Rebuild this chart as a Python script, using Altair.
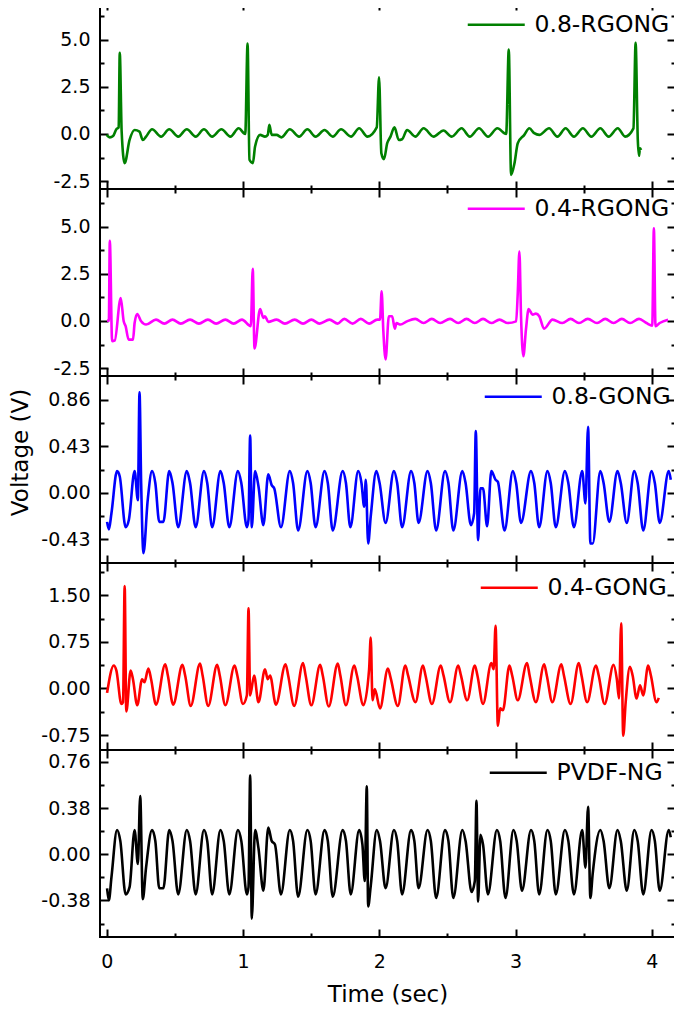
import altair as alt
import pandas as pd

# ---- data: (time in s, voltage in V) ----
RGONG08 = [(-0.002,-0.05),(0.022,-0.18),(0.046,-0.11),(0.07,0.25),(0.087,0.35),(0.095,4.30),(0.109,0.12),(0.131,-1.55),(0.167,-0.32),(0.204,0.21),(0.24,0.12),(0.264,-0.32),(0.288,-0.14),(0.332,0.25),(0.398,-0.14),(0.458,0.25),(0.524,-0.14),(0.587,0.25),(0.652,-0.14),(0.713,0.25),(0.773,-0.14),(0.841,0.25),(0.907,-0.14),(0.967,0.30),(1.016,0.0),(1.033,4.79),(1.047,-1.37),(1.072,-1.55),(1.088,-0.67),(1.125,-0.05),(1.161,-0.14),(1.181,-0.05),(1.193,0.48),(1.21,-0.05),(1.246,-0.05),(1.282,-0.18),(1.343,0.25),(1.411,-0.14),(1.472,0.25),(1.532,-0.14),(1.598,0.21),(1.658,-0.14),(1.719,0.25),
           (1.792,-0.14),(1.852,0.30),(1.913,-0.14),(1.981,0.35),(1.998,3.0),(2.015,-1.02),(2.034,-1.34),(2.058,-0.49),(2.082,-0.14),(2.111,0.35),(2.143,-0.32),(2.167,-0.28),(2.204,0.21),(2.264,-0.14),(2.325,0.30),(2.398,-0.14),(2.471,0.18),(2.531,-0.14),(2.604,0.30),(2.664,-0.14),(2.732,0.30),(2.798,-0.14),(2.866,0.30),(2.931,0.0),(2.95,4.48),(2.967,-2.17),(2.992,-1.55),(3.016,-0.49),(3.064,-0.05),(3.101,0.30),(3.137,0.04),(3.174,-0.05),(3.246,0.30),(3.307,-0.14),(3.367,0.30),(3.428,-0.14),(3.494,0.30),(3.556,-0.14),(3.622,0.30),(3.683,-0.14),(3.75,0.30),(3.804,-0.14),(3.865,0.30),(3.881,4.83),(3.897,-0.32),(3.906,-1.16),(3.913,-0.76),(3.921,-0.85)]

RGONG04 = [(0.002,0.02),(0.015,0.02),(0.022,4.25),(0.039,-1.07),(0.058,-1.04),(0.102,1.22),(0.124,-0.02),(0.138,-0.28),(0.16,-0.99),(0.192,-0.99),(0.204,-0.11),(0.223,0.37),(0.252,-0.02),(0.288,-0.19),(0.361,0.07),(0.422,-0.14),(0.482,0.07),(0.543,-0.14),(0.611,0.07),(0.676,-0.14),(0.742,0.07),(0.802,-0.14),(0.87,0.07),(0.931,-0.14),(0.992,0.07),(1.057,-0.28),(1.071,2.77),(1.084,-1.46),(1.125,0.63),(1.149,0.16),(1.161,0.25),(1.185,-0.05),(1.246,0.07),(1.307,-0.14),(1.379,0.07),(1.44,-0.14),(1.501,0.07),(1.561,-0.14),(1.634,0.07),(1.695,-0.14),
           (1.743,0.11),(1.804,-0.14),(1.864,0.11),(1.925,-0.14),(1.985,0.07),(2.005,0.07),(2.017,1.57),(2.029,-0.46),(2.046,-2.04),(2.07,0.25),(2.094,0.25),(2.114,-0.41),(2.126,-0.11),(2.155,-0.19),(2.203,-0.02),(2.264,0.11),(2.325,-0.11),(2.385,0.11),(2.446,-0.11),(2.519,0.11),(2.579,-0.11),(2.64,0.11),(2.701,-0.11),(2.761,0.11),(2.822,-0.11),(2.882,0.07),(2.943,-0.11),(3.004,-0.02),(3.016,1.48),(3.028,3.68),(3.04,0.25),(3.057,-1.87),(3.076,-0.46),(3.096,0.63),(3.125,0.33),(3.149,0.39),(3.174,0.25),(3.209,-0.41),(3.271,0.07),(3.343,-0.11),(3.404,0.11),(3.465,-0.11),(3.53,0.11),(3.598,-0.11),(3.658,0.11),(3.719,-0.11),(3.78,0.11),(3.84,-0.11),(3.906,0.11),(3.961,-0.11),(4.003,-0.25),(4.015,4.92),(4.027,-0.28),(4.058,-0.11),(4.119,0.07)]

GONG08 = [(0.002,-0.27),(0.015,-0.34),(0.034,-0.19),(0.075,0.20),(0.095,0.15),(0.138,-0.32),(0.162,-0.25),(0.204,0.20),(0.228,-0.07),(0.24,0.93),(0.252,0.09),(0.269,-0.56),(0.30,-0.07),(0.332,0.20),(0.356,0.09),(0.385,-0.27),(0.415,-0.27),(0.458,0.20),(0.482,0.09),(0.524,-0.32),(0.587,0.20),(0.611,0.09),(0.652,-0.32),(0.713,0.20),(0.737,0.09),(0.773,-0.32),(0.834,0.20),(0.858,0.09),(0.899,-0.32),(0.962,0.20),(0.987,0.09),(1.028,-0.32),(1.04,-0.25),(1.052,0.53),(1.064,-0.32),(1.088,0.20),(1.113,0.06),(1.149,-0.30),(1.185,0.17),(1.21,0.07),(1.229,0.04),(1.278,-0.32),(1.343,0.20),(1.367,0.09),(1.404,-0.35),(1.472,0.20),(1.496,0.09),(1.532,-0.32),(1.598,0.20),(1.622,0.09),(1.658,-0.35),
          (1.731,0.20),(1.755,0.09),(1.787,-0.32),(1.845,0.20),(1.869,0.09),(1.889,-0.13),(1.901,0.12),(1.918,-0.47),(1.937,-0.22),(1.978,0.20),(2.002,0.09),(2.046,-0.28),(2.107,0.20),(2.131,0.09),(2.167,-0.32),(2.233,0.20),(2.257,0.09),(2.288,-0.28),(2.354,0.20),(2.378,0.09),(2.417,-0.35),(2.482,0.20),(2.507,0.09),(2.543,-0.35),(2.609,0.20),(2.633,0.09),(2.672,-0.30),(2.696,-0.19),(2.708,0.57),(2.725,-0.44),(2.742,0.04),(2.761,0.04),(2.791,-0.31),(2.822,0.20),(2.853,0.12),(2.87,0.10),(2.919,-0.35),(2.98,0.20),(3.004,0.09),(3.04,-0.28),(3.113,0.20),(3.137,0.09),(3.173,-0.32),(3.234,0.20),(3.258,0.09),(3.295,-0.32),(3.362,0.20),(3.387,0.09),(3.428,-0.32),(3.489,0.20),(3.513,-0.10),(3.532,0.61),(3.549,-0.47),(3.566,-0.47),(3.622,0.20),(3.646,0.09),(3.688,-0.27),(3.748,0.20),(3.772,0.09),(3.816,-0.28),(3.871,0.20),(3.896,0.09),(3.937,-0.35),(3.998,0.20),(4.022,0.09),(4.058,-0.28),(4.124,0.20),(4.139,0.12)]

GONG04 = [(0.002,-0.07),(0.051,0.37),(0.07,0.29),(0.107,-0.25),(0.119,-0.22),(0.131,1.65),(0.143,-0.37),(0.175,0.29),(0.192,0.15),(0.223,-0.27),(0.259,0.15),(0.276,0.10),(0.305,0.32),(0.325,0.15),(0.361,-0.26),(0.429,0.39),(0.448,0.21),(0.487,-0.26),(0.555,0.38),(0.575,0.21),(0.616,-0.28),(0.684,0.40),(0.703,0.21),(0.744,-0.28),(0.81,0.38),(0.829,0.21),(0.87,-0.27),(0.938,0.37),(0.958,0.21),(0.999,-0.25),(1.028,-0.11),(1.04,1.29),(1.052,-0.11),(1.081,0.21),(1.113,-0.22),(1.161,0.31),(1.181,0.15),(1.198,0.21),(1.241,-0.26),(1.312,0.39),(1.331,0.21),(1.375,-0.28),(1.44,0.41),(1.459,0.21),(1.501,-0.27),(1.566,0.38),(1.585,0.21),(1.629,-0.29),(1.695,0.40),(1.714,0.21),(1.755,-0.27),
          (1.816,0.37),(1.836,0.21),(1.883,-0.27),(1.925,0.31),(1.937,0.82),(1.95,-0.19),(1.967,-0.01),(2.005,-0.32),(2.063,0.32),(2.082,0.18),(2.136,-0.28),(2.191,0.37),(2.211,0.21),(2.265,-0.22),(2.32,0.37),(2.339,0.21),(2.386,-0.25),(2.451,0.37),(2.471,0.21),(2.519,-0.22),(2.579,0.37),(2.599,0.21),(2.645,-0.19),(2.701,0.37),(2.72,0.21),(2.761,-0.25),(2.822,0.41),(2.839,0.31),(2.853,1.01),(2.87,-0.60),(2.887,-0.32),(2.907,-0.35),(2.955,0.37),(2.975,0.21),(3.016,-0.19),(3.084,0.41),(3.103,0.21),(3.149,-0.22),(3.21,0.39),(3.229,0.21),(3.27,-0.22),(3.336,0.39),(3.355,0.21),(3.404,-0.25),(3.464,0.41),(3.484,0.21),(3.525,-0.22),(3.59,0.37),(3.61,0.21),(3.653,-0.25),(3.719,0.38),(3.743,0.15),(3.759,-0.16),(3.775,1.05),(3.79,-0.76),(3.808,-0.22),(3.839,0.35),(3.859,0.21),(3.888,-0.16),(3.913,0.05),(3.937,-0.11),(3.973,0.37),(3.993,0.21),(4.034,-0.22),(4.051,-0.15)]

PVDFNG = [(0.002,-0.28),(0.015,-0.38),(0.034,-0.19),(0.075,0.20),(0.099,0.11),(0.138,-0.33),(0.167,-0.27),(0.204,0.20),(0.228,-0.08),(0.245,0.48),(0.264,-0.37),(0.288,-0.11),(0.332,0.20),(0.356,0.11),(0.385,-0.28),(0.415,-0.28),(0.458,0.20),(0.482,0.11),(0.524,-0.33),(0.587,0.20),(0.611,0.11),(0.652,-0.33),(0.713,0.20),(0.737,0.11),(0.773,-0.33),(0.834,0.20),(0.858,0.11),(0.899,-0.33),(0.962,0.20),(0.987,0.11),(1.028,-0.33),(1.04,-0.27),(1.052,0.65),(1.064,-0.53),(1.088,0.20),(1.113,0.05),(1.149,-0.30),(1.185,0.22),(1.21,0.11),(1.234,0.08),(1.278,-0.33),(1.343,0.20),(1.367,0.11),(1.404,-0.35),(1.472,0.20),(1.496,0.11),(1.532,-0.33),(1.598,0.20),(1.622,0.11),(1.658,-0.35),
          (1.731,0.20),(1.755,0.11),(1.79,-0.33),(1.852,0.20),(1.876,0.08),(1.893,-0.22),(1.908,0.56),(1.918,-0.43),(1.937,-0.26),(1.981,0.20),(2.005,0.11),(2.046,-0.28),(2.107,0.20),(2.131,0.11),(2.167,-0.33),(2.233,0.20),(2.257,0.11),(2.288,-0.28),(2.354,0.20),(2.378,0.11),(2.417,-0.36),(2.482,0.20),(2.507,0.11),(2.543,-0.36),(2.609,0.20),(2.633,0.11),(2.677,-0.31),(2.701,-0.22),(2.713,0.44),(2.725,-0.39),(2.742,0.16),(2.761,0.08),(2.797,-0.33),(2.863,0.20),(2.887,0.11),(2.926,-0.36),(2.984,0.20),(3.008,0.11),(3.047,-0.30),(3.113,0.20),(3.137,0.11),(3.173,-0.33),(3.234,0.20),(3.258,0.11),(3.295,-0.33),(3.362,0.20),(3.387,0.11),(3.428,-0.33),(3.489,0.20),(3.513,-0.11),(3.532,0.39),(3.549,-0.36),(3.566,-0.16),(3.622,0.20),(3.646,0.11),(3.688,-0.28),(3.748,0.20),(3.772,0.11),(3.816,-0.30),(3.871,0.20),(3.896,0.11),(3.937,-0.33),(3.998,0.20),(4.022,0.11),(4.058,-0.30),(4.124,0.20),(4.139,0.14)]

NAMES = ["0.8-RGONG", "0.4-RGONG", "0.8-GONG", "0.4-GONG", "PVDF-NG"]
COLORS = ["#008000", "#ff00ff", "#0000ff", "#ff0000", "#000000"]
SERIES = [RGONG08, RGONG04, GONG08, GONG04, PVDFNG]
Y_DOMAINS = [[-2.92, 7.0], [-2.92, 7.0], [-0.651, 1.081], [-0.99, 2.02], [-0.681, 0.858]]
Y_MAJOR = [[-2.5, 0, 2.5, 5.0], [-2.5, 0, 2.5, 5.0], [-0.43, 0, 0.43, 0.86], [-0.75, 0, 0.75, 1.5], [-0.38, 0, 0.38, 0.76]]
Y_MINOR = [[-1.25, 1.25, 3.75, 6.25], [-1.25, 1.25, 3.75, 6.25], [-0.215, 0.215, 0.645], [-0.375, 0.375, 1.125, 1.875], [-0.57, -0.19, 0.19, 0.57]]
Y_FMT = [".1f", ".1f", ".2f", ".2f", ".2f"]
X_DOMAIN = [-0.05, 4.17]
X_MAJOR = [0, 1, 2, 3, 4]
X_MINOR = [0.5, 1.5, 2.5, 3.5]
LEGEND_X = [366, 366, 383, 379, 388]
LEGEND_Y = [11, 8, 9, 13, 11]

W = 575
H = 187
FONT = "DejaVu Sans"
MAJ = alt.ExprRef("-8")
MIN = alt.ExprRef("-4")
SYM_SIZE = 400            # symbol box 20 px
SYM_PATH = "M-2.85,0H2.85"  # 57 px long line sample
TICKS = dict(grid=False, domain=False, tickWidth=2, tickColor="black", minExtent=0)


def panel(i):
    df = pd.DataFrame(SERIES[i], columns=["t", "v"])
    df["series"] = NAMES[i]
    last = i == len(NAMES) - 1
    xs = alt.Scale(domain=X_DOMAIN, nice=False, zero=False)
    ys = alt.Scale(domain=Y_DOMAINS[i], nice=False, zero=False)
    lab = "replace(format(datum.value, '%s'), '\u2212', '-')" % Y_FMT[i]
    base = alt.Chart(df)

    if last:
        x_main = alt.Axis(orient="bottom", values=X_MAJOR, tickSize=MAJ, labels=True, labelPadding=23,
                          title="Time (sec)", titlePadding=12, titleFontSize=23,
                          labelExpr="format(datum.value, 'd')", **TICKS)
    else:
        x_main = alt.Axis(orient="bottom", values=X_MAJOR, tickSize=MAJ, labels=False, title=None, **TICKS)
    if i == 2:
        y_main = alt.Axis(orient="left", values=Y_MAJOR[i], tickSize=MAJ, labelExpr=lab, labelPadding=18,
                          title="Voltage (V)", titlePadding=8, titleFontSize=23, titleY=76, **TICKS)
    else:
        y_main = alt.Axis(orient="left", values=Y_MAJOR[i], tickSize=MAJ, labelExpr=lab, labelPadding=18,
                          title=None, **TICKS)

    main = base.mark_line(strokeWidth=2.6, clip=True, interpolate="monotone").encode(
        x=alt.X("t:Q", scale=xs, axis=x_main),
        y=alt.Y("v:Q", scale=ys, axis=y_main),
        color=alt.Color("series:N", scale=alt.Scale(domain=[NAMES[i]], range=[COLORS[i]]),
                        legend=alt.Legend(title=None, orient="none", legendX=LEGEND_X[i] + 18.5,
                                          legendY=LEGEND_Y[i])),
    )

    def ghost(xo, yo, xvals, yvals, size):
        return base.mark_line(opacity=0, clip=True).encode(
            x=alt.X("t:Q", scale=xs, axis=alt.Axis(orient=xo, values=xvals, tickSize=size, labels=False,
                                                   title=None, **TICKS)),
            y=alt.Y("v:Q", scale=ys, axis=alt.Axis(orient=yo, values=yvals, tickSize=size, labels=False,
                                                   title=None, **TICKS)),
        )

    g1 = ghost("bottom", "left", X_MINOR, Y_MINOR[i], MIN)
    g2 = ghost("top", "right", X_MAJOR, Y_MAJOR[i], MAJ)
    g3 = ghost("top", "right", X_MINOR, Y_MINOR[i], MIN)
    return alt.layer(main, g1, g2, g3).resolve_axis(x="independent", y="independent").properties(width=W, height=H)


chart = alt.vconcat(*[panel(i) for i in range(5)], spacing=0, bounds="flush").resolve_scale(
    color="independent"
).resolve_legend(color="independent").configure_view(
    stroke="black", strokeWidth=2
).configure_axis(
    labelFont=FONT, labelFontSize=19, labelColor="black",
    titleFont=FONT, titleColor="black", titleFontWeight="normal",
).configure_legend(
    labelFont=FONT, labelFontSize=23.5, labelColor="black", symbolType=SYM_PATH,
    symbolSize=SYM_SIZE, symbolStrokeWidth=2.5, labelOffset=26.5, padding=0,
).properties(padding={"left": 0, "top": -8, "right": -3, "bottom": 0}, background="white")

chart.save("out.html", embed_options={"renderer": "svg", "actions": False})
